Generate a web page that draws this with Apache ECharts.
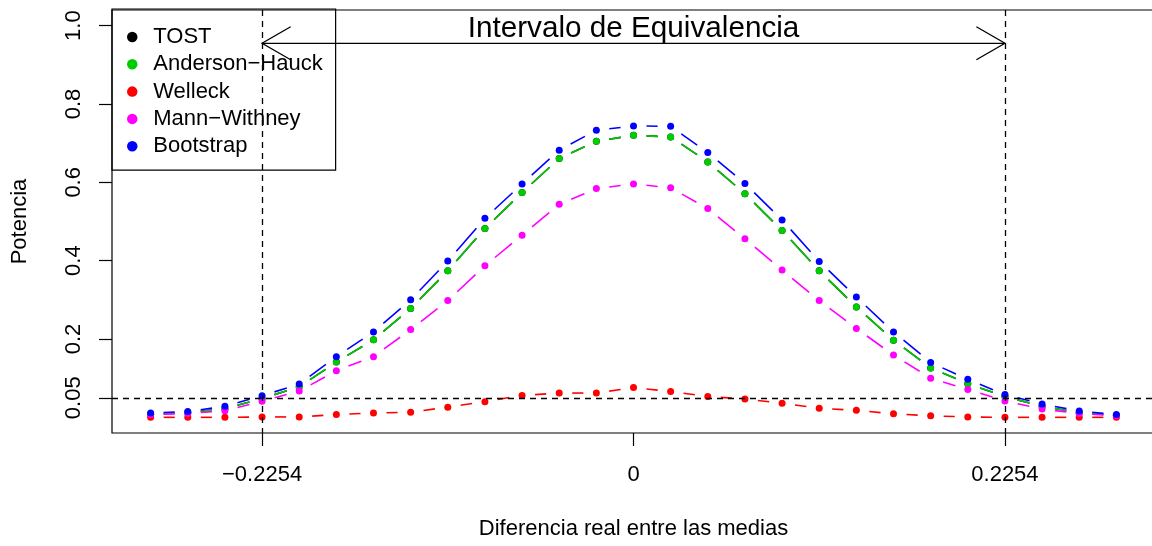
<!DOCTYPE html>
<html>
<head>
<meta charset="utf-8">
<script src="https://cdn.jsdelivr.net/npm/echarts@6/dist/echarts.min.js"></script>
<style>
html,body{margin:0;padding:0;background:#fff;}
#chart{width:1152px;height:546px;}
</style>
</head>
<body>
<div id="chart"></div>
<script>
// ---- data ----
const xValues = [-0.29302, -0.27048, -0.24794, -0.2254, -0.20286, -0.18032, -0.15778, -0.13524, -0.1127, -0.09016, -0.06762, -0.04508, -0.02254, 0,
  0.02254, 0.04508, 0.06762, 0.09016, 0.1127, 0.13524, 0.15778, 0.18032, 0.20286, 0.2254, 0.24794, 0.27048, 0.29302];
const tost      = [0.008, 0.012, 0.022, 0.048, 0.078, 0.141, 0.198, 0.278, 0.374, 0.482, 0.574, 0.661, 0.705, 0.720, 0.716, 0.652, 0.571, 0.477, 0.374, 0.282, 0.197, 0.126, 0.086, 0.053, 0.028, 0.012, 0.005];
const anderson  = [0.008, 0.012, 0.022, 0.048, 0.078, 0.141, 0.198, 0.278, 0.374, 0.482, 0.574, 0.661, 0.705, 0.720, 0.716, 0.652, 0.571, 0.477, 0.374, 0.282, 0.197, 0.126, 0.086, 0.053, 0.028, 0.012, 0.005];
const welleck   = [0.000, 0.000, 0.000, 0.001, 0.001, 0.007, 0.011, 0.013, 0.026, 0.040, 0.056, 0.062, 0.062, 0.076, 0.066, 0.053, 0.047, 0.036, 0.023, 0.018, 0.009, 0.004, 0.001, 0.000, 0.000, 0.000, 0.000];
const mann      = [0.007, 0.010, 0.017, 0.041, 0.067, 0.119, 0.155, 0.224, 0.298, 0.387, 0.465, 0.544, 0.584, 0.596, 0.586, 0.533, 0.456, 0.376, 0.298, 0.227, 0.159, 0.100, 0.071, 0.042, 0.021, 0.010, 0.004];
const bootstrap = [0.011, 0.015, 0.028, 0.055, 0.085, 0.155, 0.218, 0.300, 0.399, 0.508, 0.596, 0.682, 0.733, 0.744, 0.743, 0.676, 0.597, 0.504, 0.398, 0.307, 0.218, 0.140, 0.097, 0.058, 0.034, 0.016, 0.007];
const seriesNames = ['TOST', 'Anderson\u2212Hauck', 'Welleck', 'Mann\u2212Withney', 'Bootstrap'];
const xTickValues = [-0.2254, 0, 0.2254];
const xTickLabels = ['\u22120.2254', '0', '0.2254'];
const yTickValues = [0.05, 0.2, 0.4, 0.6, 0.8, 1.0];
const yTickLabels = ['0.05', '0.2', '0.4', '0.6', '0.8', '1.0'];
const equivLimits = [-0.2254, 0.2254];
const alphaLevel = 0.05;
const arrowY = 0.955;
const arrowText = 'Intervalo de Equivalencia';
const xTitle = 'Diferencia real entre las medias';
const yTitle = 'Potencia';

// ---- styles ----
const FONT = '"Liberation Sans", Arial, Helvetica, sans-serif';
const colors = ['#000000', '#00CD00', '#FF0000', '#FF00FF', '#0000FF'];
const allY = [tost, anderson, welleck, mann, bootstrap];
const GAP = 13;

function labelFor(vals, labs) {
  return function (v) {
    for (let i = 0; i < vals.length; i++) if (Math.abs(vals[i] - v) < 1e-9) return labs[i];
    return '';
  };
}

const series = [];
allY.forEach(function (ys, si) {
  const color = colors[si];
  const segData = [];
  for (let i = 0; i < xValues.length - 1; i++) segData.push([xValues[i], ys[i], xValues[i + 1], ys[i + 1]]);
  series.push({
    type: 'custom', name: seriesNames[si], z: 2 + si * 2, silent: true,
    data: segData,
    encode: { x: [0, 2], y: [1, 3] },
    renderItem: function (params, api) {
      const p1 = api.coord([api.value(0), api.value(1)]);
      const p2 = api.coord([api.value(2), api.value(3)]);
      const dx = p2[0] - p1[0], dy = p2[1] - p1[1];
      const L = Math.sqrt(dx * dx + dy * dy);
      if (L <= 2 * GAP) return { type: 'group', children: [] };
      const ux = dx / L, uy = dy / L;
      return {
        type: 'line',
        shape: { x1: p1[0] + ux * GAP, y1: p1[1] + uy * GAP, x2: p2[0] - ux * GAP, y2: p2[1] - uy * GAP },
        style: { stroke: color, lineWidth: 1.6 }
      };
    }
  });
  series.push({
    type: 'scatter', name: seriesNames[si], z: 3 + si * 2, silent: true,
    symbol: 'circle', symbolSize: 7,
    itemStyle: { color: color, opacity: 1 },
    data: xValues.map(function (x, i) { return [x, ys[i]]; })
  });
});

// reference dashed lines (vertical at equivalence limits, horizontal at alpha)
const refData = equivLimits.map(function (v) { return [v, 0, 0]; }).concat([[0, alphaLevel, 1]]);
series.push({
  type: 'custom', name: 'ref', z: 20, silent: true,
  data: refData,
  encode: { x: [0], y: [1] },
  renderItem: function (params, api) {
    const cs = params.coordSys;
    const p = api.coord([api.value(0), api.value(1)]);
    const st = { stroke: '#000', lineWidth: 1.3, lineDash: [6, 5] };
    if (api.value(2) === 0) {
      const x = Math.round(p[0]) + 0.5;
      return { type: 'line', shape: { x1: x, y1: cs.y, x2: x, y2: cs.y + cs.height }, style: st };
    }
    const y = Math.round(p[1]) + 0.5;
    return { type: 'line', shape: { x1: cs.x, y1: y, x2: cs.x + cs.width, y2: y }, style: st };
  }
});

// arrow + text
series.push({
  type: 'custom', name: 'arrow', z: 21, silent: true,
  data: [[equivLimits[0], arrowY, equivLimits[1]]],
  encode: { x: [0, 2], y: [1] },
  renderItem: function (params, api) {
    const p1 = api.coord([api.value(0), api.value(1)]);
    const p2 = api.coord([api.value(2), api.value(1)]);
    const pc = api.coord([0, api.value(1)]);
    const hl = 33, ang = 30 * Math.PI / 180;
    const hx = hl * Math.cos(ang), hy = hl * Math.sin(ang);
    const st = { stroke: '#000', lineWidth: 1.3, fill: null };
    return {
      type: 'group',
      children: [
        { type: 'line', shape: { x1: p1[0], y1: p1[1], x2: p2[0], y2: p2[1] }, style: st },
        { type: 'polyline', shape: { points: [[p1[0] + hx, p1[1] - hy], [p1[0], p1[1]], [p1[0] + hx, p1[1] + hy]] }, style: st },
        { type: 'polyline', shape: { points: [[p2[0] - hx, p2[1] - hy], [p2[0], p2[1]], [p2[0] - hx, p2[1] + hy]] }, style: st },
        { type: 'text', x: pc[0], y: pc[1] - 14,
          style: { text: arrowText, fontSize: 29.7, fontFamily: FONT, fill: '#000', align: 'center', verticalAlign: 'middle' } }
      ]
    };
  }
});

const chart = echarts.init(document.getElementById('chart'), null, { renderer: 'canvas' });
chart.setOption({
  animation: false,
  backgroundColor: '#fff',
  textStyle: { fontFamily: FONT },
  grid: { left: 112, top: 10, width: 1043, height: 423, outerBoundsMode: 'none', containLabel: false,
    show: true, borderColor: '#000', borderWidth: 1.2, backgroundColor: 'transparent' },
  legend: {
    show: true, orient: 'vertical', left: 112, top: 9,
    padding: [17, 13, 13, 15], itemGap: 5.3,
    itemWidth: 32, itemHeight: 10.5, icon: 'circle',
    borderColor: '#000', borderWidth: 1.2, borderRadius: 0,
    backgroundColor: 'transparent', selectedMode: false,
    textStyle: { fontSize: 22, fontFamily: FONT, color: '#000', lineHeight: 22 },
    data: seriesNames.map(function (n, i) { return { name: n, icon: 'circle', itemStyle: { color: colors[i] } }; })
  },
  xAxis: {
    type: 'value', min: -0.31646, max: 0.31646,
    axisLine: { show: false, onZero: false },
    splitLine: { show: false },
    axisTick: { show: true, customValues: xTickValues, length: 13, inside: false, lineStyle: { color: '#000', width: 1.2 } },
    axisLabel: { show: true, customValues: xTickValues, formatter: labelFor(xTickValues, xTickLabels), margin: 31, fontSize: 22, fontFamily: FONT, color: '#000' },
    name: xTitle, nameLocation: 'middle', nameGap: 85,
    nameTextStyle: { fontSize: 22, fontFamily: FONT, color: '#000' }
  },
  yAxis: {
    type: 'value', min: -0.04, max: 1.04,
    axisLine: { show: false, onZero: false },
    splitLine: { show: false },
    axisTick: { show: true, customValues: yTickValues, length: 13, inside: false, lineStyle: { color: '#000', width: 1.2 } },
    axisLabel: { show: true, customValues: yTickValues, formatter: labelFor(yTickValues, yTickLabels), rotate: 90, margin: 27, fontSize: 22, fontFamily: FONT, color: '#000' },
    name: yTitle, nameLocation: 'middle', nameGap: 81, nameRotate: 90,
    nameTextStyle: { fontSize: 22, fontFamily: FONT, color: '#000' }
  },
  series: series
});
</script>
</body>
</html>
